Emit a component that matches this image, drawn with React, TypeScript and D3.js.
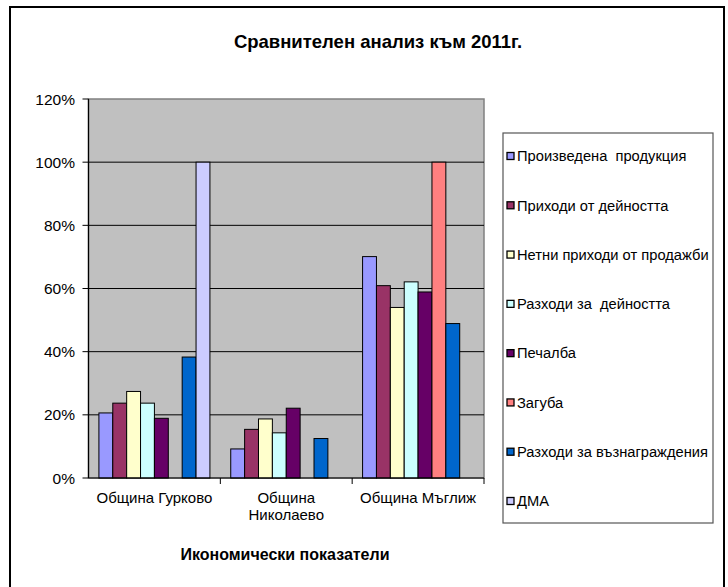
import React from "react";
import * as d3 from "d3";

const title = "Сравнителен анализ към 2011г.";
const axisTitle = "Икономически показатели";
const categories = ["Община Гурково", "Община Николаево", "Община Мъглиж"];
const categoryLines = [["Община Гурково"], ["Община", "Николаево"], ["Община Мъглиж"]];
const seriesNames = [
  "Произведена  продукция",
  "Приходи от дейността",
  "Нетни приходи от продажби",
  "Разходи за  дейността",
  "Печалба",
  "Загуба",
  "Разходи за възнаграждения",
  "ДМА",
];
const seriesColors = ["#9999FF", "#993366", "#FFFFCC", "#CCFFFF", "#660066", "#FF8080", "#0066CC", "#CCCCFF"];
// values per series, for [Гурково, Николаево, Мъглиж]
const produced = [0.206, 0.092, 0.701];
const revenue = [0.237, 0.154, 0.609];
const netSales = [0.274, 0.187, 0.54];
const expenses = [0.237, 0.143, 0.621];
const profit = [0.189, 0.221, 0.589];
const loss = [0, 0, 1.0];
const wages = [0.383, 0.125, 0.489];
const fixedAssets = [1.0, 0, 0];
const seriesValues = [produced, revenue, netSales, expenses, profit, loss, wages, fixedAssets];
const yTicks = [0, 0.2, 0.4, 0.6, 0.8, 1.0, 1.2];

const W = 728;
const H = 587;
const plot = { left: 88.5, right: 484, top: 99, bottom: 478 };
const font = "Arial, 'Liberation Sans', sans-serif";

export default function App() {
  const x0 = d3.scaleBand<string>().domain(categories).range([plot.left, plot.right]).padding(0);
  const x1 = d3
    .scaleBand<number>()
    .domain(d3.range(seriesNames.length))
    .range([0, x0.bandwidth()])
    .paddingInner(0)
    .paddingOuter(0.75);
  const y = d3.scaleLinear().domain([0, 1.2]).range([plot.bottom, plot.top]);
  const fmt = d3.format(".0%");

  const legend = { left: 503, top: 133, right: 713, bottom: 523 };
  const legendY = d3.scalePoint<number>().domain(d3.range(seriesNames.length)).range([156, 501]);

  return (
    <svg
      width={W}
      height={H}
      style={{ position: "fixed", left: 0, top: 0, background: "#fff" }}
      fontFamily={font}
    >
      <rect x={0} y={0} width={W} height={H} fill="#fff" />
      <rect x={10} y={7} width={714} height={590} fill="#fff" stroke="#000" strokeWidth={2} />
      <text x={378} y={48} textAnchor="middle" fontSize={18.5} fontWeight="bold" fill="#000">
        {title}
      </text>

      {/* plot area */}
      <rect
        x={plot.left}
        y={plot.top}
        width={plot.right - plot.left}
        height={plot.bottom - plot.top}
        fill="#C0C0C0"
        stroke="#808080"
        strokeWidth={1.5}
      />
      {yTicks.slice(1, -1).map((t) => (
        <line key={t} x1={plot.left} x2={plot.right} y1={y(t)} y2={y(t)} stroke="#000" strokeWidth={1} />
      ))}

      {/* bars */}
      {categories.map((c, ci) =>
        seriesValues.map((vals, si) =>
          vals[ci] > 0 ? (
            <rect
              key={c + si}
              x={(x0(c) as number) + (x1(si) as number)}
              y={y(vals[ci])}
              width={x1.bandwidth()}
              height={y(0) - y(vals[ci])}
              fill={seriesColors[si]}
              stroke="#000"
              strokeWidth={1}
            />
          ) : null
        )
      )}

      {/* axes */}
      <line x1={plot.left} x2={plot.left} y1={plot.top} y2={plot.bottom} stroke="#000" strokeWidth={1.2} />
      <line x1={plot.left} x2={plot.right} y1={plot.bottom} y2={plot.bottom} stroke="#000" strokeWidth={1.2} />
      {yTicks.map((t) => (
        <g key={t}>
          <line x1={plot.left - 6} x2={plot.left} y1={y(t)} y2={y(t)} stroke="#000" />
          <text x={75} y={y(t)} dy="0.36em" textAnchor="end" fontSize={15.5} fill="#000">
            {fmt(t)}
          </text>
        </g>
      ))}
      {categories.map((c) => (
        <line
          key={"tk" + c}
          x1={(x0(c) as number) + x0.bandwidth()}
          x2={(x0(c) as number) + x0.bandwidth()}
          y1={plot.bottom}
          y2={plot.bottom + 6}
          stroke="#000"
        />
      ))}
      {categories.map((c, ci) => (
        <text key={"lb" + c} textAnchor="middle" fontSize={15} fill="#000">
          {categoryLines[ci].map((ln, li) => (
            <tspan key={li} x={(x0(c) as number) + x0.bandwidth() / 2} y={498 + li * 17} dy="0.36em">
              {ln}
            </tspan>
          ))}
        </text>
      ))}
      <text x={285} y={554} dy="0.36em" textAnchor="middle" fontSize={16} fontWeight="bold" fill="#000">
        {axisTitle}
      </text>

      {/* legend */}
      <rect
        x={legend.left}
        y={legend.top}
        width={legend.right - legend.left}
        height={legend.bottom - legend.top}
        fill="#fff"
        stroke="#555"
        strokeWidth={1.2}
      />
      {seriesNames.map((s, si) => (
        <g key={s}>
          <rect
            x={507}
            y={(legendY(si) as number) - 3.5}
            width={7}
            height={7}
            fill={seriesColors[si]}
            stroke="#000"
            strokeWidth={1.3}
          />
          <text x={517} y={legendY(si) as number} dy="0.36em" fontSize={14.7} fill="#000" style={{ whiteSpace: "pre" }}>
            {s}
          </text>
        </g>
      ))}
    </svg>
  );
}
